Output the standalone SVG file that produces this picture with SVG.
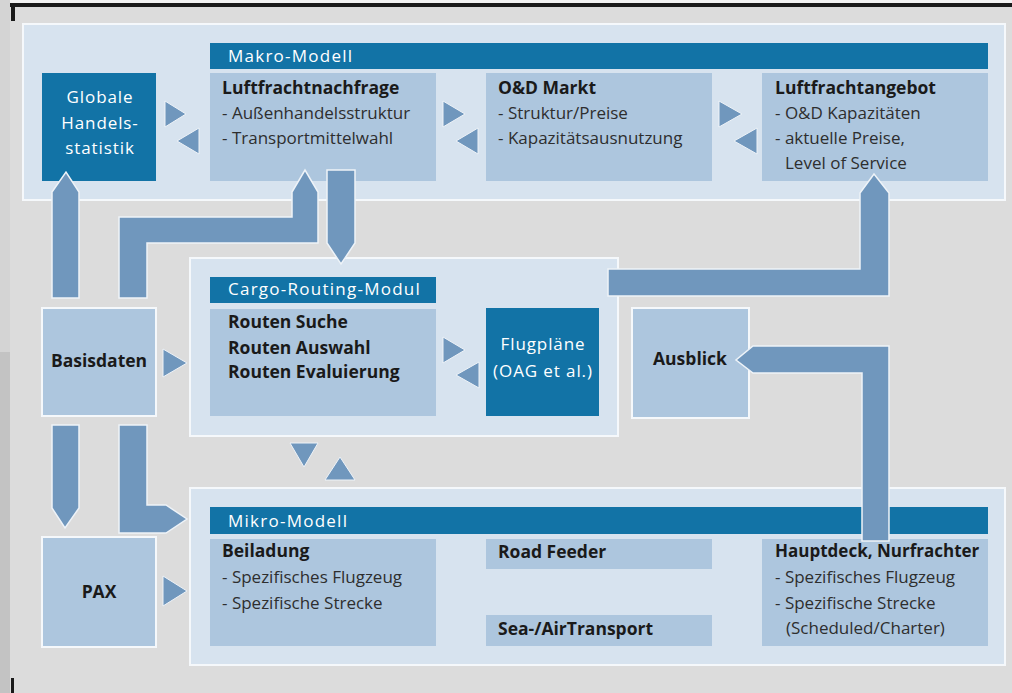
<svg xmlns="http://www.w3.org/2000/svg" width="1012" height="693" viewBox="0 0 1012 693">
<style>
.bg{fill:#dcdcdc}
.panel{fill:#d7e3ef;stroke:#f5f8fb;stroke-width:2}
.box{fill:#adc6de}
.obox{fill:#adc6de;stroke:#f5f8fb;stroke-width:2}
.dark{fill:#1273a6}
.conn{fill:#7097bd;stroke:#eef3f8;stroke-width:1.5}
.tri{fill:#7097bd;stroke:#eef3f8;stroke-width:1}
text{font-family:"Open Sans","Liberation Sans",sans-serif}
.h{font-size:17px;fill:#ffffff;letter-spacing:1.25px}
.b{font-size:17.5px;font-weight:bold;fill:#1a1a1a}
.b2{font-size:17px;font-weight:bold;fill:#1a1a1a}
.r{font-size:17px;fill:#2e2e2e}
.w{font-size:17px;fill:#ffffff;letter-spacing:0.9px}
</style>
<rect class="bg" x="0" y="0" width="1012" height="693"/>
<rect x="0" y="0" width="1012" height="3" fill="#f2f2f2"/>
<rect x="0" y="0" width="10" height="352" fill="#d4d4d4"/>
<rect x="0" y="352" width="10" height="341" fill="#c3c3c3"/>
<rect x="10" y="3" width="1002" height="4" fill="#1a1a1a"/>
<rect x="11" y="3" width="4" height="18" fill="#1a1a1a"/>
<rect x="11" y="678" width="3" height="15" fill="#1a1a1a"/>

<g id="makro-panel">
<rect class="panel" x="23" y="24" width="982" height="176"/>
<rect class="dark" x="210" y="43" width="778" height="26"/>
<text class="h" x="228" y="62">Makro-Modell</text>
</g>
<g id="cargo-panel">
<rect class="panel" x="190" y="258" width="428" height="178"/>
<rect class="dark" x="210" y="277" width="226" height="26"/>
<text class="h" x="228" y="295">Cargo-Routing-Modul</text>
</g>
<g id="mikro-panel">
<rect class="panel" x="190" y="488" width="815" height="177"/>
<rect class="dark" x="210" y="507" width="778" height="27"/>
<text class="h" x="228" y="527">Mikro-Modell</text>
</g>

<g id="globale">
<rect class="dark" x="42" y="73" width="114" height="108"/>
<text class="w" x="100" y="103" text-anchor="middle">Globale</text>
<text class="w" x="100" y="129" text-anchor="middle">Handels-</text>
<text class="w" x="100" y="154" text-anchor="middle">statistik</text>
</g>
<g id="nachfrage">
<rect class="box" x="210" y="73" width="226" height="108"/>
<text class="b" x="222" y="94">Luftfrachtnachfrage</text>
<text class="r" x="222" y="119">- Außenhandelsstruktur</text>
<text class="r" x="222" y="144">- Transportmittelwahl</text>
</g>
<g id="markt">
<rect class="box" x="486" y="73" width="226" height="108"/>
<text class="b" x="498" y="94">O&amp;D Markt</text>
<text class="r" x="498" y="119">- Struktur/Preise</text>
<text class="r" x="498" y="144">- Kapazitätsausnutzung</text>
</g>
<g id="angebot">
<rect class="box" x="762" y="73" width="226" height="108"/>
<text class="b" x="775" y="94">Luftfrachtangebot</text>
<text class="r" x="775" y="119">- O&amp;D Kapazitäten</text>
<text class="r" x="775" y="144">- aktuelle Preise,</text>
<text class="r" x="785" y="169">Level of Service</text>
</g>
<g id="basisdaten">
<rect class="obox" x="42" y="308" width="114" height="108"/>
<text class="b" x="99" y="367" text-anchor="middle">Basisdaten</text>
</g>
<g id="routen">
<rect class="box" x="210" y="309" width="226" height="107"/>
<text class="b" x="228" y="328">Routen Suche</text>
<text class="b" x="228" y="354">Routen Auswahl</text>
<text class="b" x="228" y="378">Routen Evaluierung</text>
</g>
<g id="flugplaene">
<rect class="dark" x="486" y="308" width="113" height="108"/>
<text class="w" x="543" y="350" text-anchor="middle">Flugpläne</text>
<text class="w" x="543" y="377" text-anchor="middle">(OAG et al.)</text>
</g>
<g id="ausblick">
<rect class="obox" x="632" y="308" width="117" height="110"/>
<text class="b" x="690" y="365" text-anchor="middle">Ausblick</text>
</g>
<g id="pax">
<rect class="obox" x="42" y="537" width="114" height="110"/>
<text class="b" x="99" y="598" text-anchor="middle">PAX</text>
</g>
<g id="beiladung">
<rect class="box" x="210" y="539" width="226" height="107"/>
<text class="b" x="222" y="557">Beiladung</text>
<text class="r" x="222" y="583">- Spezifisches Flugzeug</text>
<text class="r" x="222" y="609">- Spezifische Strecke</text>
</g>
<g id="roadfeeder">
<rect class="box" x="486" y="539" width="226" height="30"/>
<text class="b" x="498" y="558">Road Feeder</text>
</g>
<g id="seaair">
<rect class="box" x="486" y="615" width="226" height="31"/>
<text class="b" x="498" y="635">Sea-/AirTransport</text>
</g>
<g id="hauptdeck">
<rect class="box" x="762" y="539" width="226" height="107"/>
<text class="b2" x="775" y="557">Hauptdeck, Nurfrachter</text>
<text class="r" x="775" y="583">- Spezifisches Flugzeug</text>
<text class="r" x="775" y="609">- Spezifische Strecke</text>
<text class="r" x="786" y="634">(Scheduled/Charter)</text>
</g>

<g id="connectors">
<polygon class="tri" points="165,101 186,114 165,127"/>
<polygon class="tri" points="199,128 177,141 199,154"/>
<polygon class="tri" points="443,101 465,114 443,127"/>
<polygon class="tri" points="478,128 456,141 478,154"/>
<polygon class="tri" points="719,101 742,114 719,127"/>
<polygon class="tri" points="757,128 734,141 757,154"/>
<polygon class="tri" points="163,349 187,363 163,377"/>
<polygon class="tri" points="443,337 465,350 443,363"/>
<polygon class="tri" points="479,362 456,375 479,388"/>
<polygon class="tri" points="290,443 318,443 304,467"/>
<polygon class="tri" points="325,480 355,480 340,457"/>
<polygon class="tri" points="163,576 187,591 163,606"/>
<polygon class="conn" points="52,298 52,192 66,172 79,192 79,298"/>
<polygon class="conn" points="119,298 119,217 292,217 292,192 305,170 318,192 318,243 147,243 147,298"/>
<polygon class="conn" points="327,170 355,170 355,243 341,264 327,243"/>
<polygon class="conn" points="608,269 860,269 860,193 874,174 889,193 889,296 608,296"/>
<polygon class="conn" points="889,346 889,541 862,541 862,373 753,373 736,360 753,346"/>
<polygon class="conn" points="52,425 79,425 79,508 65,528 52,508"/>
<polygon class="conn" points="119,425 147,425 147,505 166,505 187,519 166,533 119,533"/>
</g>
</svg>
